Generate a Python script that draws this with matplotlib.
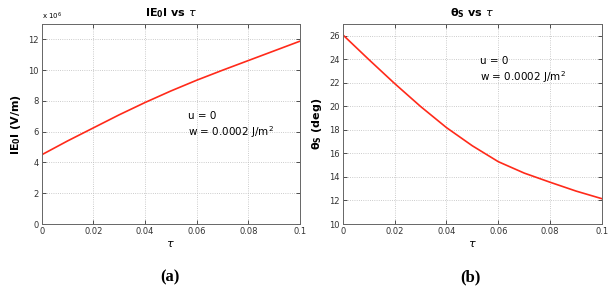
import matplotlib.pyplot as plt

# tau axis (shared)
tau = [0.0, 0.01, 0.02, 0.03, 0.04, 0.05, 0.06, 0.07, 0.08, 0.09, 0.1]
# |E0| in units of 1e6 V/m
e0 = [4.5, 5.4, 6.25, 7.1, 7.9, 8.65, 9.35, 10.0, 10.63, 11.26, 11.89]
# theta_S in degrees
theta_s = [26.1, 24.0, 21.95, 20.0, 18.2, 16.65, 15.3, 14.33, 13.55, 12.8, 12.15]

xticks = [0, 0.02, 0.04, 0.06, 0.08, 0.1]
xticklabels = ['0', '0.02', '0.04', '0.06', '0.08', '0.1']

fig = plt.figure(figsize=(6.11, 2.91), dpi=100)
ax1 = fig.add_axes([0.0682, 0.2302, 0.4228, 0.687])
ax2 = fig.add_axes([0.5609, 0.2302, 0.4244, 0.687])

for ax in (ax1, ax2):
    ax.set_xlim(0, 0.1)
    ax.set_xticks(xticks)
    ax.set_xticklabels(xticklabels)
    ax.tick_params(direction='in', labelsize=6, length=3, width=0.6, pad=2,
                   top=True, right=True, colors='#333333')
    ax.grid(True, linestyle=':', color='#bbbbbb', linewidth=0.6)
    for s in ax.spines.values():
        s.set_color('#666666')
        s.set_linewidth(0.7)
    ax.set_xlabel(r'$\tau$', fontsize=8, labelpad=2)

# ===== panel (a) =====
ax1.plot(tau, e0, color='#ff2a1a', linewidth=1.2)
ax1.set_ylim(0, 13)
ax1.set_yticks([0, 2, 4, 6, 8, 10, 12])
ax1.text(0, 1.01, r'x 10$^6$', transform=ax1.transAxes, fontsize=5, ha='left', va='bottom')
ax1.set_title(r'IE$_\mathbf{0}$I vs $\tau$', fontsize=8, fontweight='bold', pad=6)
ax1.set_ylabel(r'IE$_\mathbf{0}$I (V/m)', fontsize=8, fontweight='bold', labelpad=4)
ax1.text(0.0566, 7.0, 'u = 0', fontsize=7.5, va='center')
ax1.text(0.0566, 5.95, r'w = 0.0002 J/m$^2$', fontsize=7.5, va='center')

# ===== panel (b) =====
ax2.plot(tau, theta_s, color='#ff2a1a', linewidth=1.2)
ax2.set_ylim(10, 27)
ax2.set_yticks([10, 12, 14, 16, 18, 20, 22, 24, 26])
ax2.set_title(r'$\mathbf{\theta_S}$ vs $\tau$', fontsize=8, fontweight='bold', pad=6)
ax2.set_ylabel(r'$\mathbf{\theta_S}$ (deg)', fontsize=8, fontweight='bold', labelpad=4)
ax2.text(0.0528, 23.86, 'u = 0', fontsize=7.5, va='center')
ax2.text(0.0528, 22.5, r'w = 0.0002 J/m$^2$', fontsize=7.5, va='center')

# panel captions
fig.text(170 / 611, 1 - 277 / 291, '(a)', fontsize=12, fontweight='bold',
         family='Liberation Serif', ha='center', va='center')
fig.text(470 / 611, 1 - 277 / 291, '(b)', fontsize=12, fontweight='bold',
         family='Liberation Serif', ha='center', va='center')

fig.savefig('out.png', dpi=100)
